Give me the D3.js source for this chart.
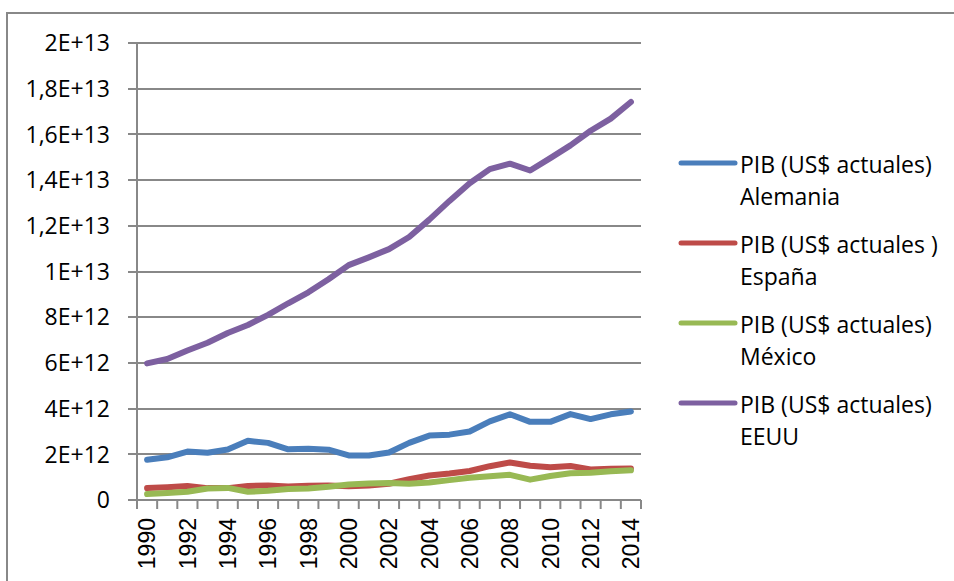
<!DOCTYPE html>
<html>
<head>
<meta charset="utf-8">
<script src="https://cdn.jsdelivr.net/npm/d3@7"></script>
<style>
  html, body { margin: 0; padding: 0; background: #fff; }
  svg { display: block; }
</style>
</head>
<body>
<svg id="chart" width="954" height="581"></svg>
<script>
const years = [1990,1991,1992,1993,1994,1995,1996,1997,1998,1999,2000,2001,2002,2003,2004,2005,2006,2007,2008,2009,2010,2011,2012,2013,2014];
// values in trillions of current US$
const alemania = [1.76,1.87,2.12,2.07,2.21,2.59,2.50,2.22,2.24,2.20,1.95,1.95,2.08,2.50,2.82,2.86,3.00,3.44,3.75,3.42,3.42,3.76,3.54,3.75,3.87];
const espana   = [0.52,0.56,0.61,0.52,0.52,0.61,0.64,0.59,0.62,0.63,0.60,0.63,0.71,0.91,1.07,1.16,1.27,1.48,1.64,1.50,1.43,1.49,1.34,1.37,1.38];
const mexico   = [0.26,0.31,0.36,0.50,0.53,0.36,0.40,0.48,0.50,0.58,0.68,0.72,0.74,0.71,0.77,0.87,0.97,1.04,1.10,0.89,1.05,1.17,1.19,1.26,1.30];
const eeuu     = [5.98,6.17,6.54,6.88,7.31,7.66,8.10,8.61,9.09,9.66,10.28,10.62,10.98,11.51,12.27,13.09,13.86,14.48,14.72,14.42,14.96,15.52,16.16,16.69,17.42];
const seriesNames = [["PIB (US$ actuales)","Alemania"],["PIB (US$ actuales )","España"],["PIB (US$ actuales)","México"],["PIB (US$ actuales)","EEUU"]];
const seriesColors = ["#4A7EBB","#BE4B48","#98B954","#7D60A0"];
const yTickValues = [0,2e12,4e12,6e12,8e12,1e13,1.2e13,1.4e13,1.6e13,1.8e13,2e13];
const yTickLabels = ["0","2E+12","4E+12","6E+12","8E+12","1E+13","1,2E+13","1,4E+13","1,6E+13","1,8E+13","2E+13"];
const xTickLabels = years.filter(y => y % 2 === 0);

const series = [alemania, espana, mexico, eeuu];
const svg = d3.select("#chart");
const gray = "#888888";
const font = "'Open Sans', 'Noto Sans', sans-serif";

// outer frame (top + left visible)
svg.append("line").attr("x1",7).attr("x2",954).attr("y1",13).attr("y2",13).attr("stroke",gray).attr("stroke-width",2);
svg.append("line").attr("x1",7).attr("x2",7).attr("y1",12).attr("y2",581).attr("stroke",gray).attr("stroke-width",2);

const x = d3.scaleBand().domain(years).range([137, 641]).padding(0);
const y = d3.scaleLinear().domain([0, 2e13]).range([500, 43]);

// gridlines
svg.append("g").selectAll("line").data(yTickValues).join("line")
  .attr("x1", 128).attr("x2", 641)
  .attr("y1", d => Math.round(y(d))).attr("y2", d => Math.round(y(d)))
  .attr("stroke", gray).attr("stroke-width", 2);

// y axis line
svg.append("line").attr("x1",137).attr("x2",137).attr("y1",y(2e13)).attr("y2",509).attr("stroke",gray).attr("stroke-width",2);

// y labels
svg.append("g").selectAll("text").data(yTickValues).join("text")
  .attr("x", 110).attr("y", d => y(d))
  .attr("dy", "0.36em")
  .attr("text-anchor", "end")
  .attr("font-family", font).attr("font-size", 23).attr("fill", "#000")
  .text((d,i) => yTickLabels[i]);

// x ticks at band boundaries
const boundaries = years.map(yv => x(yv)).concat([x(years[years.length-1]) + x.bandwidth()]);
svg.append("g").selectAll("line").data(boundaries).join("line")
  .attr("x1", d => d).attr("x2", d => d).attr("y1", 500).attr("y2", 509)
  .attr("stroke", gray).attr("stroke-width", 2);

// x labels
svg.append("g").selectAll("text").data(xTickLabels).join("text")
  .attr("transform", d => `translate(${x(d) + x.bandwidth()/2},518) rotate(-90)`)
  .attr("dy", "0.36em")
  .attr("text-anchor", "end")
  .attr("font-family", "'Liberation Sans', Arial, sans-serif").attr("font-size", 23).attr("fill", "#000")
  .text(d => d);

// lines
const line = d3.line().x((d,i) => x(years[i]) + x.bandwidth()/2).y(d => y(d * 1e12));
series.forEach((s, k) => {
  svg.append("path").datum(s)
    .attr("d", line)
    .attr("fill", "none")
    .attr("stroke", seriesColors[k])
    .attr("stroke-width", 6)
    .attr("stroke-linejoin", "round")
    .attr("stroke-linecap", "round");
});

// legend
const legend = svg.append("g");
seriesNames.forEach((nm, k) => {
  const base = 173 + k * 80;
  legend.append("line").attr("x1", 681).attr("x2", 735).attr("y1", base - 10).attr("y2", base - 10)
    .attr("stroke", seriesColors[k]).attr("stroke-width", 5).attr("stroke-linecap", "round");
  legend.append("text").attr("x", 740).attr("y", base)
    .attr("font-family", font).attr("font-size", 23).attr("fill", "#000").text(nm[0]);
  legend.append("text").attr("x", 740).attr("y", base + 32)
    .attr("font-family", font).attr("font-size", 23).attr("fill", "#000").text(nm[1]);
});
</script>
</body>
</html>
